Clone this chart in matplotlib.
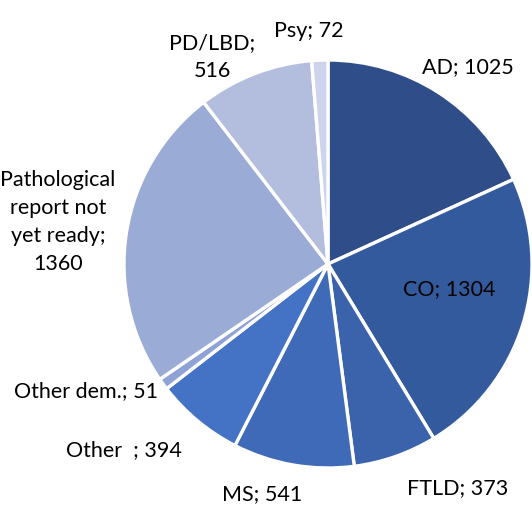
import matplotlib
matplotlib.use("Agg")
import matplotlib.pyplot as plt

categories = ["AD", "CO", "FTLD", "MS", "Other ", "Other dem.",
              "Pathological\nreport not\nyet ready", "PD/LBD", "Psy"]
values = [1025, 1304, 373, 541, 394, 51, 1360, 516, 72]
label_texts = ["AD; 1025", "CO; 1304", "FTLD; 373", "MS; 541", "Other  ; 394",
               "Other dem.; 51", "Pathological\nreport not\nyet ready;\n1360",
               "PD/LBD;\n516", "Psy; 72"]
colors = ["#2E4D89", "#335A9D", "#3A63AC", "#3F6AB8", "#4472C4",
          "#8EA2D5", "#9AABD6", "#B3BEDF", "#CDD4EB"]
# label anchor positions in pixels (x, y)
label_px = [(468, 67), (449, 289), (458, 488), (262, 494), (124, 450),
            (86, 391), (58, 222), (212, 57), (309, 31)]

W, H = 532, 506
cx, cy, r = 328, 265, 204

fig = plt.figure(figsize=(W / 100, H / 100), dpi=100)
ax = fig.add_axes([0, 0, 1, 1])
ax.pie(values, colors=colors, startangle=90, counterclock=False, radius=1,
       wedgeprops=dict(edgecolor="white", linewidth=2.4))
ax.set_xlim(-cx / r, (W - cx) / r)
ax.set_ylim(-(H - cy) / r, cy / r)
ax.set_aspect("equal")
ax.axis("off")

for txt, (px, py) in zip(label_texts, label_px):
    ax.text((px - cx) / r, (cy - py) / r, txt, ha="center", va="center",
            fontsize=15.5, family=["Lato", "DejaVu Sans"], color="#000000",
            linespacing=1.5)

fig.savefig("out.png", dpi=100)
